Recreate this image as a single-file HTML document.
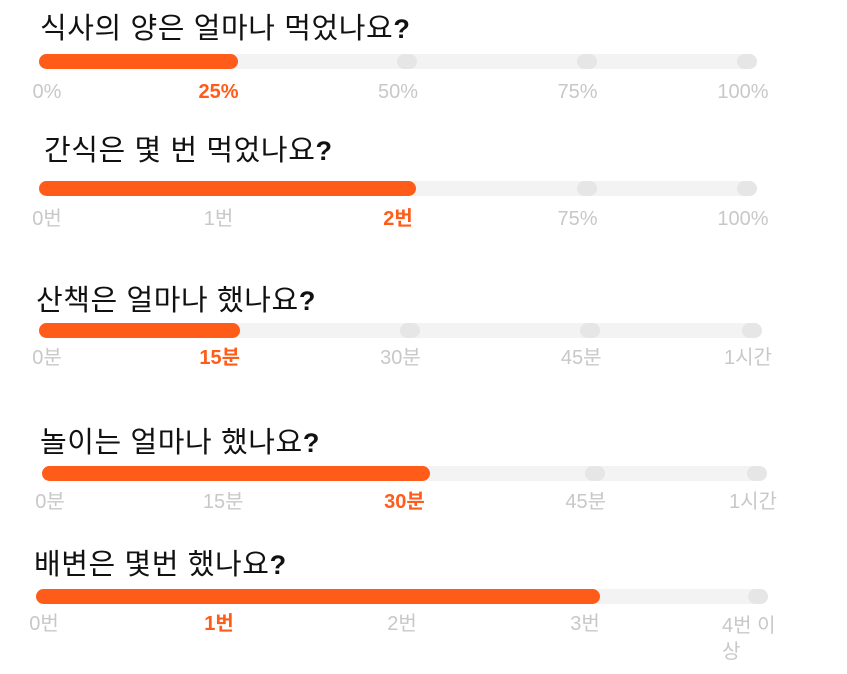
<!DOCTYPE html>
<html><head><meta charset="utf-8">
<style>
body{margin:0;width:847px;height:674px;background:#fff;position:relative;overflow:hidden;font-family:"Liberation Sans","Noto Sans CJK KR",sans-serif}
.t{position:absolute;font-size:29px;font-weight:normal;color:#111;white-space:nowrap;line-height:32px;letter-spacing:0.6px}
.t b{font-weight:bold;font-size:27px}
.trk{position:absolute;height:15px;background:#f3f3f3;border-radius:8px}
.fill{position:absolute;height:15px;background:#ff5c1a;border-radius:8px;top:0;left:0}
.dot{position:absolute;width:20px;height:15px;border-radius:8px;background:#e6e6e6;top:0}
.lb{position:absolute;font-size:20px;color:#c8c8c8;transform:translateX(-50%);white-space:nowrap;line-height:22px}
.lb.on{color:#ff5c1a;font-weight:bold}
</style></head><body>
<script>
const titles=["식사의 양은 얼마나 먹었나요","간식은 몇 번 먹었나요","산책은 얼마나 했나요","놀이는 얼마나 했나요","배변은 몇번 했나요"];
const tickLabels=[["0%","25%","50%","75%","100%"],["0번","1번","2번","75%","100%"],["0분","15분","30분","45분","1시간"],["0분","15분","30분","45분","1시간"],["0번","1번","2번","3번","4번 이상"]];
const selected=[1,2,1,2,1];
const fillValues=[1.11,2.1,1.11,2.14,3.08];
const steps=4;
const layout=[{tx:40,ty:13,y:54,x0:39,x1:757,ly:81},{tx:44,ty:135,y:181,x0:39,x1:757,ly:208},{tx:36,ty:285,y:323,x0:39,x1:762,ly:347},{tx:40,ty:427,y:466,x0:42,x1:767,ly:491},{tx:34,ty:549,y:589,x0:36,x1:768,ly:613}];
titles.forEach((title,i)=>{
 const L=layout[i];
 const xs=v=>L.x0+(L.x1-L.x0)*v/steps;
 const t=document.createElement('div');t.className='t';t.style.left=L.tx+'px';t.style.top=L.ty+'px';t.innerHTML=title+'<b>?</b>';
 
 
 document.body.appendChild(t);
 const tr=document.createElement('div');tr.className='trk';tr.style.left=L.x0+'px';tr.style.top=L.y+'px';tr.style.width=(L.x1-L.x0)+'px';
 
 
 document.body.appendChild(tr);
 const fe=xs(fillValues[i]);
 for(let s=0;s<=steps;s++){let cx=xs(s);if(s<steps)cx+=9;if(cx-10>fe){const d=document.createElement('div');d.className='dot';d.style.left=Math.min(cx-10,L.x1-20)-L.x0+'px';
  
  
  tr.appendChild(d);}}
 const f=document.createElement('div');f.className='fill';f.style.width=(fe-L.x0)+'px';
 
 
 tr.appendChild(f);
 tickLabels[i].forEach((lab,s)=>{
  const l=document.createElement('div');l.className='lb'+(s===selected[i]?' on':'');
  let cx=xs(s);if(s===0)cx+=8;if(s===steps)cx-=14;
  l.style.left=cx+'px';l.style.top=L.ly+'px';
  if(lab==='4번 이상'){l.style.whiteSpace='normal';l.style.width='64px';l.style.transform='none';l.style.left=(cx-32)+'px';l.style.lineHeight='26px';}
  l.textContent=lab;
  
  
  document.body.appendChild(l);
 });
});
</script>
</body></html>
